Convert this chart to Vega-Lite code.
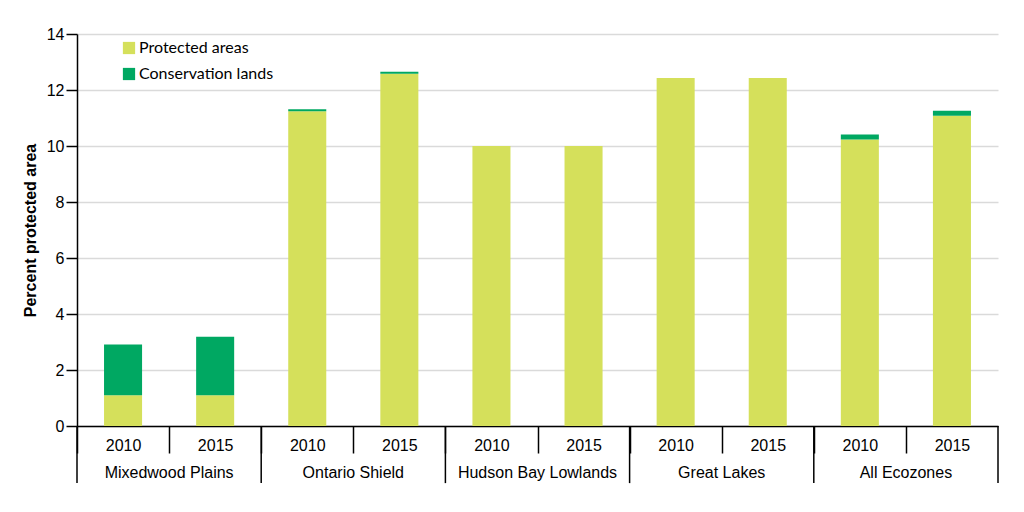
{
  "$schema": "https://vega.github.io/schema/vega-lite/v6.json",
  "width": 921,
  "height": 392,
  "autosize": "none",
  "padding": {"left": 77, "top": 34, "right": 26, "bottom": 86},
  "config": {"view": {"stroke": null}, "font": "Liberation Sans, Arial, sans-serif"},
  "data": {
    "values": [
      {"key": "Mixedwood Plains|2010", "ecozone": "Mixedwood Plains", "year": "2010", "type": "Protected areas", "value": 1.1},
      {"key": "Mixedwood Plains|2010", "ecozone": "Mixedwood Plains", "year": "2010", "type": "Conservation lands", "value": 1.81},
      {"key": "Mixedwood Plains|2015", "ecozone": "Mixedwood Plains", "year": "2015", "type": "Protected areas", "value": 1.1},
      {"key": "Mixedwood Plains|2015", "ecozone": "Mixedwood Plains", "year": "2015", "type": "Conservation lands", "value": 2.09},
      {"key": "Ontario Shield|2010", "ecozone": "Ontario Shield", "year": "2010", "type": "Protected areas", "value": 11.24},
      {"key": "Ontario Shield|2010", "ecozone": "Ontario Shield", "year": "2010", "type": "Conservation lands", "value": 0.07},
      {"key": "Ontario Shield|2015", "ecozone": "Ontario Shield", "year": "2015", "type": "Protected areas", "value": 12.58},
      {"key": "Ontario Shield|2015", "ecozone": "Ontario Shield", "year": "2015", "type": "Conservation lands", "value": 0.07},
      {"key": "Hudson Bay Lowlands|2010", "ecozone": "Hudson Bay Lowlands", "year": "2010", "type": "Protected areas", "value": 10.0},
      {"key": "Hudson Bay Lowlands|2010", "ecozone": "Hudson Bay Lowlands", "year": "2010", "type": "Conservation lands", "value": 0},
      {"key": "Hudson Bay Lowlands|2015", "ecozone": "Hudson Bay Lowlands", "year": "2015", "type": "Protected areas", "value": 10.0},
      {"key": "Hudson Bay Lowlands|2015", "ecozone": "Hudson Bay Lowlands", "year": "2015", "type": "Conservation lands", "value": 0},
      {"key": "Great Lakes|2010", "ecozone": "Great Lakes", "year": "2010", "type": "Protected areas", "value": 12.43},
      {"key": "Great Lakes|2010", "ecozone": "Great Lakes", "year": "2010", "type": "Conservation lands", "value": 0},
      {"key": "Great Lakes|2015", "ecozone": "Great Lakes", "year": "2015", "type": "Protected areas", "value": 12.43},
      {"key": "Great Lakes|2015", "ecozone": "Great Lakes", "year": "2015", "type": "Conservation lands", "value": 0},
      {"key": "All Ecozones|2010", "ecozone": "All Ecozones", "year": "2010", "type": "Protected areas", "value": 10.23},
      {"key": "All Ecozones|2010", "ecozone": "All Ecozones", "year": "2010", "type": "Conservation lands", "value": 0.18},
      {"key": "All Ecozones|2015", "ecozone": "All Ecozones", "year": "2015", "type": "Protected areas", "value": 11.08},
      {"key": "All Ecozones|2015", "ecozone": "All Ecozones", "year": "2015", "type": "Conservation lands", "value": 0.18}
    ]
  },
  "layer": [
    {
      "mark": {"type": "bar", "width": {"band": 0.413}},
      "encoding": {
        "x": {
          "field": "key",
          "type": "ordinal",
          "sort": null,
          "scale": {"paddingInner": 0, "paddingOuter": 0},
          "axis": {
            "title": null,
            "labelExpr": "split(datum.value,'|')[1]",
            "labelAngle": 0,
            "tickOffset": -46,
            "labelOffset": 46,
            "tickSize": 27,
            "tickColor": "black",
            "tickWidth": 1.5,
            "domainColor": "black",
            "domainWidth": 1.5,
            "labelPadding": -16,
            "labelFontSize": 16,
            "labelColor": "black",
            "labelFont": "Liberation Sans, Arial, sans-serif"
          }
        },
        "y": {
          "field": "value",
          "type": "quantitative",
          "stack": "zero",
          "scale": {"domain": [0, 14], "nice": false},
          "axis": {
            "title": "Percent protected area",
            "titleFontSize": 16,
            "titleFontWeight": "bold",
            "titleFont": "Liberation Sans, Arial, sans-serif",
            "titleColor": "black",
            "titlePadding": 8,
            "values": [0, 2, 4, 6, 8, 10, 12, 14],
            "grid": true,
            "gridColor": "#dadada",
            "gridWidth": 1.5,
            "domainColor": "black",
            "domainWidth": 1.5,
            "tickColor": "black",
            "tickSize": 11,
            "tickWidth": 1.5,
            "labelFontSize": 16,
            "labelPadding": 2,
            "labelColor": "black",
            "labelFont": "Liberation Sans, Arial, sans-serif"
          }
        },
        "color": {
          "field": "type",
          "type": "nominal",
          "sort": ["Protected areas", "Conservation lands"],
          "scale": {"domain": ["Protected areas", "Conservation lands"], "range": ["#D5E05B", "#00A862"]},
          "legend": {
            "title": null,
            "orient": "none",
            "legendX": 44,
            "legendY": 6,
            "symbolType": "square",
            "symbolSize": 150,
            "symbolStrokeWidth": 0,
            "labelFontSize": 16,
            "labelFont": "Lato",
            "labelColor": "black",
            "labelOffset": 2,
            "rowPadding": 10,
            "padding": 0
          }
        },
        "order": {"field": "type", "sort": "descending"}
      }
    },
    {
      "transform": [{"filter": "datum.year == '2010' && datum.type == 'Protected areas'"}],
      "mark": {"type": "rule", "color": "black", "strokeWidth": 1.5, "clip": false},
      "encoding": {
        "x": {"field": "key", "type": "ordinal", "sort": null, "bandPosition": 0},
        "y": {"datum": 0, "type": "quantitative"},
        "y2": {"datum": -2.04}
      }
    },
    {
      "transform": [{"filter": "datum.key == 'All Ecozones|2015' && datum.type == 'Protected areas'"}],
      "mark": {"type": "rule", "color": "black", "strokeWidth": 1.5, "clip": false},
      "encoding": {
        "x": {"field": "key", "type": "ordinal", "sort": null, "bandPosition": 1},
        "y": {"datum": 0, "type": "quantitative"},
        "y2": {"datum": -2.04}
      }
    },
    {
      "transform": [{"filter": "datum.year == '2015' && datum.type == 'Protected areas'"}],
      "mark": {"type": "text", "fontSize": 16, "color": "black", "baseline": "middle", "align": "center", "clip": false, "font": "Liberation Sans, Arial, sans-serif"},
      "encoding": {
        "x": {"field": "key", "type": "ordinal", "sort": null, "bandPosition": 0},
        "y": {"datum": -1.68, "type": "quantitative"},
        "text": {"field": "ecozone"}
      }
    }
  ]
}
